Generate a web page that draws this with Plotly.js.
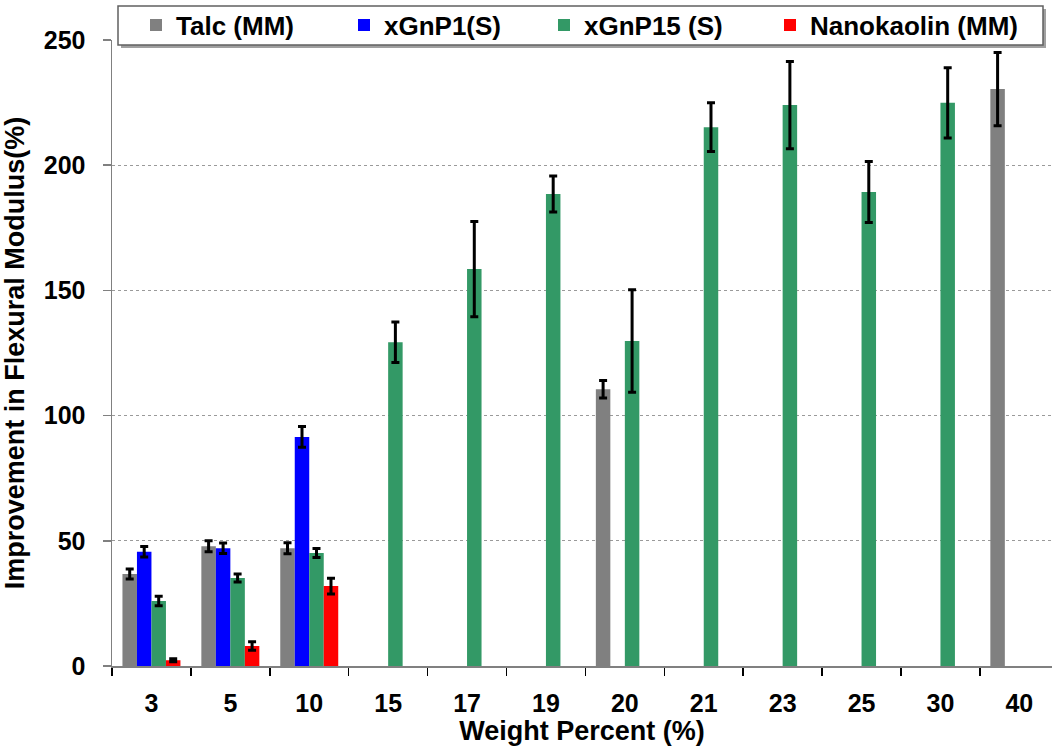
<!DOCTYPE html>
<html>
<head>
<meta charset="utf-8">
<script src="https://cdn.plot.ly/plotly-3.0.1.min.js"></script>
<style>
  html, body { margin: 0; padding: 0; background: #fff; overflow: hidden; }
  #chart { width: 1052px; height: 749px; }
</style>
</head>
<body>
<div id="chart"></div>
<script>
// ---- data ----
const categories = ["3", "5", "10", "15", "17", "19", "20", "21", "23", "25", "30", "40"];

const talcValues   = [36.7, 47.8, 47.0, null, null, null, 110.5, null, null, null, null, 230.4];
const talcErrors   = [2.0, 2.2, 2.2, null, null, null, 3.5, null, null, null, null, 14.6];

const xgnp1Values  = [45.6, 47.0, 91.5, null, null, null, null, null, null, null, null, null];
const xgnp1Errors  = [2.1, 2.1, 4.1, null, null, null, null, null, null, null, null, null];

const xgnp15Values = [26.0, 35.1, 45.1, 129.3, 158.5, 188.5, 129.8, 215.2, 224.0, 189.3, 224.9, null];
const xgnp15Errors = [1.9, 1.6, 1.8, 8.1, 19.0, 7.2, 20.5, 9.7, 17.4, 12.2, 14.0, null];

const nanoValues   = [2.3, 8.0, 31.9, null, null, null, null, null, null, null, null, null];
const nanoErrors   = [0.6, 1.7, 3.1, null, null, null, null, null, null, null, null, null];

const seriesNames  = ["Talc (MM)", "xGnP1(S)", "xGnP15 (S)", "Nanokaolin (MM)"];
const seriesColors = ["#808080", "#0000FF", "#339966", "#FF0000"];
const yTickValues  = [0, 50, 100, 150, 200, 250];

// ---- chart ----
const FONT = "Liberation Sans, Arial, Helvetica, sans-serif";
const values = [talcValues, xgnp1Values, xgnp15Values, nanoValues];
const errors = [talcErrors, xgnp1Errors, xgnp15Errors, nanoErrors];
const legendIds = ["legend", "legend2", "legend3", "legend4"];
const legendLeftPx = [136, 344, 544, 770];

const traces = seriesNames.map((name, i) => ({
  type: "bar",
  name: name,
  legend: legendIds[i],
  x: categories,
  y: values[i],
  marker: { color: seriesColors[i] },
  error_y: {
    type: "data",
    array: errors[i],
    visible: true,
    color: "#000000",
    thickness: 3,
    width: 4
  },
  hoverinfo: "x+y+name"
}));

const layout = {
  width: 1052,
  height: 749,
  margin: { l: 112, r: 0, t: 40, b: 83, pad: 0 },
  paper_bgcolor: "#ffffff",
  plot_bgcolor: "#ffffff",
  font: { family: FONT, size: 25, color: "#000000", weight: "bold" },
  barmode: "group",
  bargap: 0.265,
  bargroupgap: 0,
  showlegend: true,
  xaxis: {
    type: "category",
    range: [-0.5, 11.414],
    showline: true,
    linecolor: "#808080",
    linewidth: 1.5,
    ticks: "outside",
    tickson: "boundaries",
    ticklen: 8,
    tickwidth: 1.5,
    tickcolor: "#000000",
    ticklabelstandoff: 14,
    tickfont: { family: FONT, size: 25, color: "#000000", weight: "bold" },
    showgrid: false,
    zeroline: false,
    title: {
      text: "Weight Percent (%)",
      font: { family: FONT, size: 27, color: "#000000", weight: "bold" },
      standoff: 2
    },
    fixedrange: true
  },
  yaxis: {
    range: [0, 250],
    tickvals: yTickValues,
    ticktext: yTickValues.map(String),
    showline: true,
    linecolor: "#808080",
    linewidth: 1.5,
    ticks: "outside",
    ticklen: 8,
    tickwidth: 1.5,
    tickcolor: "#808080",
    ticklabelstandoff: 12,
    tickfont: { family: FONT, size: 25, color: "#000000", weight: "bold" },
    showgrid: true,
    gridcolor: "#9a9a9a",
    gridwidth: 1,
    griddash: "dot",
    zeroline: false,
    title: {
      text: "Improvement in Flexural Modulus(%)",
      font: { family: FONT, size: 27, color: "#000000", weight: "bold" },
      standoff: 13
    },
    fixedrange: true
  },
  shapes: [
    // legend box shadow
    { type: "rect", xref: "paper", yref: "paper",
      x0: (121 - 112) / 940, x1: (1046 - 112) / 940,
      y0: (666 - 48) / 626, y1: (666 - 9) / 626,
      fillcolor: "#a0a0a0", line: { width: 0 }, layer: "above" },
    // legend box
    { type: "rect", xref: "paper", yref: "paper",
      x0: (118 - 112) / 940, x1: (1043 - 112) / 940,
      y0: (666 - 45) / 626, y1: (666 - 6) / 626,
      fillcolor: "#ffffff", line: { color: "#606060", width: 1.5 }, layer: "above" }
  ]
};

legendIds.forEach((id, i) => {
  layout[id] = {
    orientation: "h",
    x: (legendLeftPx[i] - 112) / 940, xanchor: "left",
    y: (666 - 25) / 626, yanchor: "middle",
    bgcolor: "rgba(0,0,0,0)",
    borderwidth: 0,
    font: { family: FONT, size: 26, color: "#000000", weight: "bold" }
  };
});

Plotly.newPlot("chart", traces, layout, { displayModeBar: false, staticPlot: true });
</script>
</body>
</html>
